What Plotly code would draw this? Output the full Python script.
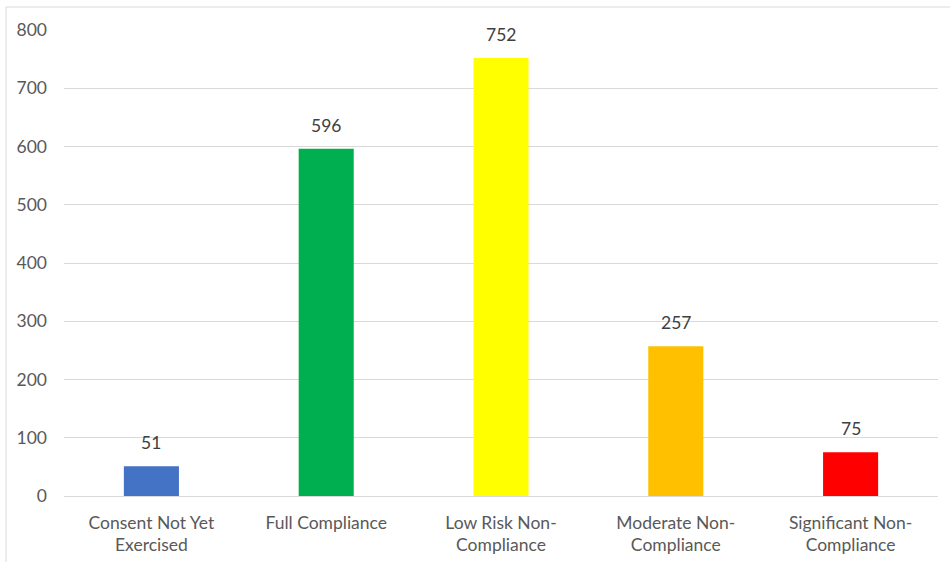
import plotly.graph_objects as go

categories = ["Consent Not Yet<br>Exercised", "Full Compliance", "Low Risk Non-<br>Compliance",
              "Moderate Non-<br>Compliance", "Significant Non-<br>Compliance"]
values = [51, 596, 752, 257, 75]
colors = ["#4472C4", "#00B050", "#FFFF00", "#FFC000", "#FF0000"]
y_ticks = [0, 100, 200, 300, 400, 500, 600, 700, 800]

FONT = "Lato"
FS = 17.5

fig = go.Figure()
fig.add_trace(go.Bar(x=list(range(len(categories))), y=values, marker=dict(color=colors, line=dict(width=0)),
                     width=0.315, hoverinfo="skip"))

for i, v in enumerate(values):
    fig.add_annotation(x=i, y=v, text=str(v), showarrow=False, yanchor="bottom", yshift=11,
                       font=dict(family=FONT, size=FS, color="#404040"))

fig.update_layout(
    width=950, height=562,
    margin=dict(l=64, r=12, t=30, b=66),
    paper_bgcolor="white", plot_bgcolor="white",
    showlegend=False,
    font=dict(family=FONT, size=FS, color="#595959"),
    xaxis=dict(tickmode="array", tickvals=list(range(len(categories))), ticktext=categories,
               range=[-0.5, len(categories) - 0.5], showgrid=False, zeroline=False,
               showline=False, ticks="", ticklabelstandoff=14, automargin=False,
               tickfont=dict(family=FONT, size=FS, color="#595959")),
    yaxis=dict(range=[0, 800], tickvals=y_ticks, showgrid=True, gridcolor="#D9D9D9", gridwidth=1,
               zeroline=True, zerolinecolor="#D9D9D9", zerolinewidth=1, showline=False, ticks="",
               ticklabelstandoff=16, automargin=False, tickfont=dict(family=FONT, size=FS, color="#595959")),
    shapes=[dict(type="rect", xref="paper", yref="paper",
                 x0=-58 / 874, x1=1 + 20 / 874, y0=-80 / 466, y1=1 + 23 / 466,
                 line=dict(color="#D9D9D9", width=1), fillcolor="rgba(0,0,0,0)", layer="below")],
)

fig.write_html("out.html")
